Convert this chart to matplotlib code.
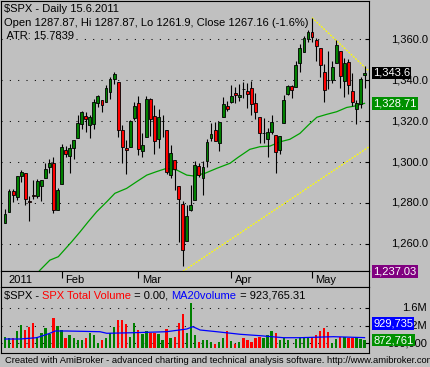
import matplotlib
matplotlib.use("Agg")
import matplotlib.pyplot as plt
import matplotlib.transforms as mtransforms
import numpy as np

# daily bars, 11 Jan 2011 .. 19 May 2011 (bar index 0..89)
opens = [1269.97, 1275.65, 1285.78, 1282.90, 1293.22, 1294.52, 1280.85, 1283.63, 1283.29, 1288.17,
         1291.97, 1297.51, 1299.63, 1276.50, 1289.14, 1305.91, 1302.77, 1307.01, 1311.85, 1318.76,
         1322.48, 1318.13, 1318.66, 1328.73, 1330.43, 1329.51, 1334.37, 1340.38, 1338.91, 1315.44,
         1307.09, 1307.34, 1321.61, 1328.64, 1305.47, 1312.37, 1330.73, 1322.72, 1311.05, 1319.92,
         1315.72, 1293.43, 1301.19, 1288.46, 1279.46, 1261.61, 1276.71, 1281.65, 1298.29, 1292.19,
         1300.61, 1311.80, 1315.45, 1309.37, 1321.89, 1327.44, 1329.48, 1333.56, 1332.03, 1335.94,
         1334.82, 1336.16, 1329.01, 1321.96, 1314.03, 1311.13, 1314.54, 1313.35, 1305.99, 1319.12,
         1333.23, 1337.14, 1336.75, 1348.43, 1353.86, 1360.14, 1363.80, 1359.76, 1355.90, 1344.16,
         1340.24, 1340.20, 1348.34, 1354.51, 1339.39, 1348.69, 1334.77, 1326.10, 1328.54, 1342.40]
highs = [1276.83, 1286.87, 1286.70, 1293.24, 1296.06, 1294.60, 1283.35, 1291.21, 1291.93, 1291.26,
         1299.74, 1301.29, 1302.67, 1287.17, 1308.86, 1307.61, 1308.60, 1311.00, 1322.85, 1324.87,
         1324.54, 1322.78, 1330.79, 1332.96, 1330.43, 1337.61, 1341.50, 1344.07, 1338.91, 1317.91,
         1310.91, 1320.61, 1329.38, 1332.09, 1314.19, 1332.28, 1331.08, 1327.68, 1325.74, 1323.21,
         1315.72, 1308.35, 1301.19, 1288.46, 1280.91, 1278.88, 1288.88, 1300.58, 1299.35, 1300.51,
         1311.34, 1319.18, 1319.74, 1319.45, 1331.74, 1329.77, 1337.85, 1336.74, 1338.21, 1339.38,
         1338.80, 1339.46, 1333.77, 1321.96, 1321.35, 1316.79, 1322.88, 1313.35, 1312.70, 1332.66,
         1337.49, 1337.55, 1349.55, 1357.49, 1361.71, 1364.56, 1370.58, 1360.84, 1355.90, 1348.00,
         1354.36, 1349.44, 1359.44, 1354.51, 1351.05, 1350.47, 1343.33, 1330.42, 1341.82, 1346.82]
lows = [1269.97, 1275.65, 1280.47, 1281.24, 1290.16, 1278.92, 1271.26, 1282.07, 1282.47, 1281.07,
        1291.97, 1294.41, 1275.10, 1276.50, 1289.14, 1302.62, 1294.83, 1301.67, 1311.85, 1316.03,
        1314.89, 1311.74, 1316.08, 1326.90, 1324.61, 1329.51, 1331.00, 1338.12, 1312.33, 1299.55,
        1294.26, 1307.34, 1320.55, 1303.42, 1302.58, 1312.37, 1312.59, 1303.99, 1306.86, 1312.27,
        1294.21, 1291.99, 1286.37, 1261.12, 1249.05, 1261.61, 1276.18, 1281.65, 1292.70, 1284.05,
        1297.74, 1310.15, 1310.19, 1305.26, 1321.89, 1325.03, 1328.89, 1329.10, 1330.03, 1331.09,
        1326.56, 1322.94, 1321.06, 1309.51, 1309.19, 1302.42, 1313.68, 1294.70, 1303.97, 1319.12,
        1332.83, 1331.47, 1336.75, 1344.25, 1353.60, 1358.69, 1358.59, 1349.52, 1341.50, 1329.17,
        1335.58, 1338.64, 1348.34, 1336.36, 1332.03, 1333.36, 1327.32, 1318.51, 1326.59, 1336.36]
closes = [1274.48, 1285.96, 1283.76, 1293.24, 1295.02, 1281.92, 1280.26, 1283.35, 1290.84, 1291.18,
          1296.63, 1299.54, 1276.34, 1286.12, 1307.59, 1304.03, 1307.10, 1310.87, 1319.05, 1324.57,
          1320.88, 1321.87, 1329.15, 1332.32, 1328.01, 1336.32, 1340.43, 1343.01, 1315.44, 1307.40,
          1306.10, 1319.88, 1327.22, 1306.33, 1308.44, 1330.97, 1321.15, 1310.13, 1321.82, 1320.02,
          1295.11, 1304.28, 1296.39, 1281.87, 1256.88, 1273.72, 1279.21, 1298.38, 1293.77, 1297.54,
          1309.66, 1313.80, 1310.19, 1319.44, 1328.26, 1325.83, 1332.41, 1332.87, 1332.63, 1335.54,
          1333.51, 1328.17, 1324.46, 1314.16, 1314.41, 1314.52, 1319.68, 1305.14, 1312.62, 1330.36,
          1337.38, 1335.25, 1347.24, 1355.66, 1360.48, 1363.61, 1361.22, 1356.62, 1347.32, 1335.10,
          1340.20, 1346.29, 1357.16, 1342.08, 1348.65, 1337.77, 1329.47, 1328.98, 1340.68, 1343.60]
# volume in millions
volume = [0.95, 0.93, 0.91, 1.07, 1.22, 1.10, 1.18, 1.26, 0.95, 1.03,
          1.16, 1.01, 1.37, 1.20, 1.10, 0.91, 0.99, 0.91, 0.875, 0.875,
          0.93, 1.04, 0.99, 0.80, 0.875, 0.91, 1.03, 1.18, 1.33, 1.33,
          1.23, 0.95, 1.26, 1.10, 1.01, 1.07, 1.03, 1.03, 1.01, 0.875,
          1.13, 0.91, 0.95, 1.26, 1.46, 1.03, 1.71, 0.99, 0.84, 0.875,
          0.875, 0.82, 0.78, 0.82, 0.93, 1.08, 0.85, 0.78, 0.82, 0.91,
          0.875, 0.84, 0.93, 0.95, 0.91, 0.99, 1.07, 1.03, 0.875, 0.93,
          0.875, 0.70, 0.90, 0.95, 0.95, 0.95, 0.95, 1.00, 1.08, 1.14,
          1.05, 0.80, 0.90, 0.95, 0.95, 0.91, 0.91, 0.95, 0.90, 0.873]

# moving average of price
ma_bar = [7, 8.7, 11.1, 13.2, 16.5, 18.6, 20.6, 22.7, 25.2, 27.2, 30.1, 32.6, 35.1, 37.5, 40.0,
          42.5, 45.0, 46.6, 49.5, 52.4, 55.7, 57.7, 60.6, 63.1, 65.6, 68.1, 70.5, 73.0, 75.1,
          77.2, 79.6, 82.1, 84.6, 86.6, 89]
ma_price = [1243.0, 1247.2, 1252.0, 1253.7, 1261.0, 1265.9, 1270.8, 1275.7, 1280.6, 1284.7,
            1287.1, 1290.4, 1293.6, 1295.3, 1296.9, 1296.1, 1293.6, 1293.2, 1294.5, 1296.9,
            1299.4, 1302.3, 1306.2, 1307.5, 1307.8, 1309.9, 1311.1, 1314.0, 1318.1, 1321.9,
            1323.3, 1324.6, 1326.7, 1327.4, 1328.71]
# MA20 of volume
vma_bar = [0, 3.7, 7.8, 9.9, 11.1, 12.4, 15.3, 23.5, 25.2, 31.8, 40.0, 45.0, 46.5, 48.3,
           52.4, 58.2, 63.1, 68.9, 73.0, 81.3, 89]
vma_value = [0.898, 0.898, 0.928, 0.99, 1.029, 1.081, 1.081, 1.065, 1.029, 1.042, 1.065,
             1.127, 1.18, 1.104, 1.065, 1.006, 0.974, 0.928, 0.928, 0.951, 0.9297]

upper_trend_bar = [76, 90]
upper_trend_price = [1370.58, 1344.6]
lower_trend_bar = [44, 90]
lower_trend_price = [1246.5, 1307.3]

month_bar = [0, 14, 33, 56, 76]
month_label = ["2011", "Feb", "Mar", "Apr", "May"]
price_ticks = [1260, 1280, 1300, 1320, 1340, 1360]
price_tick_labels = ["1,260.0", "1,280.0", "1,300.0", "1,320.0", "1,340.0", "1,360.0"]
vol_ticks = [0.8, 1.2, 1.6]
vol_tick_labels = ["800,000", "1.2M", "1.6M"]

GRAY = "#C0C0C0"
GREEN = "#008000"
RED = "#FF0000"
W, H = 430, 367

plt.rcParams["font.family"] = ["Liberation Sans", "DejaVu Sans"]
plt.rcParams["font.size"] = 8

fig = plt.figure(figsize=(W / 100, H / 100), dpi=100, facecolor=GRAY)


def px_axes(x0, y0, x1, y1):
    a = fig.add_axes([x0 / W, 1 - y1 / H, (x1 - x0) / W, (y1 - y0) / H])
    a.set_facecolor(GRAY)
    for s in a.spines.values():
        s.set_color("black")
        s.set_linewidth(0.8)
    return a


bars = np.arange(len(closes))
o = np.array(opens); c = np.array(closes)
up = c >= o
colors = [GREEN if u else RED for u in up]
dots = (0, (1, 7))

# ---- price pane
ax = px_axes(1, 0.5, 369, 271)
ax.set_xlim(-0.99, 90.1)
ax.set_ylim(1246.7, 1379.0)
ax.set_yticks(price_ticks)
ax.set_xticks([])
ax.tick_params(axis="y", left=False, right=True, direction="in", length=3,
               labelleft=False, labelright=False, color="black")
ax.grid(axis="y", color="black", linestyle=dots, lw=0.75)
ax.set_axisbelow(True)

ax.plot(lower_trend_bar, lower_trend_price, color="#FFFF00", lw=0.9, linestyle=(0, (1.5, 1)), zorder=2)
ax.plot(upper_trend_bar, upper_trend_price, color="#FFFF00", lw=0.9, linestyle=(0, (1.5, 1)), zorder=2)
ax.plot(ma_bar, ma_price, color="#00A000", lw=0.9, zorder=2)
ax.vlines(bars, lows, highs, color="black", lw=0.8, zorder=3)
ax.bar(bars, np.abs(c - o), bottom=np.minimum(o, c), width=0.72, color=colors,
       edgecolor="black", linewidth=0.6, zorder=4)

ytr = mtransforms.blended_transform_factory(fig.transFigure, ax.transData)
for v, lab in zip(price_ticks, price_tick_labels):
    ax.text(428 / W, v, lab, transform=ytr, ha="right", va="center", fontsize=8, clip_on=False)

box = dict(boxstyle="square,pad=0.12", ec="none")
ax.text(373 / W, closes[-1], "1,343.6", transform=ytr, ha="left", va="center", color="white",
        bbox=dict(box, fc="black"), clip_on=False)
ax.text(373 / W, ma_price[-1], "1,328.71", transform=ytr, ha="left", va="center", color="white",
        bbox=dict(box, fc="#009000"), clip_on=False)
fig.text(373 / W, 1 - 271.5 / H, "1,237.03", ha="left", va="center", color="white",
         bbox=dict(box, fc="#800080"))

# ---- date strip
axd = px_axes(1, 271, 369, 287)
axd.set_xlim(ax.get_xlim())
axd.set_xticks([]); axd.set_yticks([])
axd.vlines(month_bar[1:], 0.55, 1, color="black", lw=0.8, transform=axd.get_xaxis_transform())
for b, lab in zip(month_bar, month_label):
    axd.annotate(lab, xy=(b, 0.45), xycoords=axd.get_xaxis_transform(), xytext=(3.5, 0),
                 textcoords="offset pixels", ha="left", va="center")

# ---- volume pane
axv = px_axes(1, 287, 369, 353.3)
axv.set_xlim(ax.get_xlim())
axv.set_ylim(0.5714, 2.087)
axv.set_yticks(vol_ticks)
axv.set_xticks([])
axv.tick_params(axis="y", left=False, right=True, direction="in", length=3,
                labelleft=False, labelright=False)
axv.grid(axis="y", color="black", linestyle=dots, lw=0.75)
axv.set_axisbelow(True)
vol_floor = 0.686
axv.bar(bars, np.array(volume) - vol_floor, bottom=vol_floor, width=0.58, color=colors, zorder=2)
axv.plot(vma_bar, vma_value, color="#0000FF", lw=0.9, zorder=3)

vtr = mtransforms.blended_transform_factory(fig.transFigure, axv.transData)
for v, lab in zip(vol_ticks, vol_tick_labels):
    axv.text(427 / W, v, lab, transform=vtr, ha="right", va="center", clip_on=False)
fig.text(373 / W, 1 - 323.5 / H, "929,735", ha="left", va="center", color="white",
         bbox=dict(box, fc="#0000FF"))
axv.text(373 / W, volume[-1], "872,761", transform=vtr, ha="left", va="center", color="white",
         bbox=dict(box, fc="#009000"), clip_on=False)

# ---- titles
fig.text(4 / W, 1 - 9 / H, "$SPX - Daily 15.6.2011", va="center")
fig.text(4 / W, 1 - 22.5 / H, "Open 1287.87, Hi 1287.87, Lo 1261.9, Close 1267.16 (-1.6%)", va="center")
fig.text(4 / W, 1 - 36 / H, " ATR: 15.7839", va="center")

renderer = fig.canvas.get_renderer()
x = 4
for s, col in [("$SPX - ", "black"), ("SPX Total Volume", RED), (" = 0.00, ", "black"),
               ("MA20volume", "#0000FF"), (" = 923,765.31", "black")]:
    t = fig.text(x / W, 1 - 296 / H, s, color=col, va="center", ha="left")
    x += t.get_window_extent(renderer).width

# footer runs off the right edge, as in the original screenshot
fig.text(5 / W, 1 - 360.5 / H,
         "Created with AmiBroker - advanced charting and technical analysis software. http://www.amibroker.com",
         va="center", fontsize=6.75)

fig.savefig("out.png", dpi=100, facecolor=GRAY)
